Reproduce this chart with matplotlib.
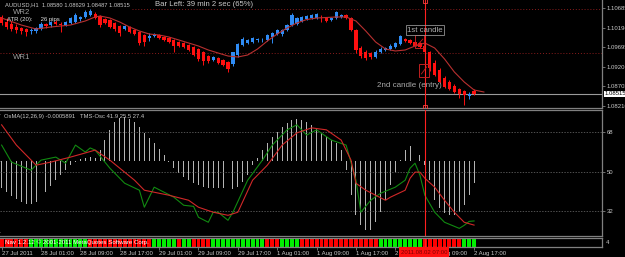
import matplotlib
matplotlib.use("Agg")
import matplotlib.pyplot as plt
from matplotlib.patches import Rectangle

plt.rcParams['font.family'] = ['Liberation Sans', 'DejaVu Sans']

# ---------------- data ----------------
opens = [1.10458, 1.10331, 1.10281, 1.10205, 1.10180, 1.10154, 1.10104, 1.10104, 1.10154, 1.10281,
         1.10255, 1.10331, 1.10281, 1.10255, 1.10306, 1.10331, 1.10407, 1.10458, 1.10508, 1.10533,
         1.10483, 1.10407, 1.10382, 1.10306, 1.10230, 1.10154, 1.10205, 1.10129, 1.10079, 1.10003,
         1.09927, 1.09978, 1.10003, 1.09952, 1.09927, 1.09877, 1.09826, 1.09801, 1.09750, 1.09700,
         1.09649, 1.09573, 1.09472, 1.09371, 1.09422, 1.09371, 1.09321, 1.09270, 1.09498, 1.09750,
         1.09801, 1.09826, 1.09877, 1.09877, 1.09877, 1.09952, 1.10028, 1.10028, 1.10129, 1.10255,
         1.10281, 1.10357, 1.10407, 1.10432, 1.10432, 1.10432, 1.10432, 1.10382, 1.10432, 1.10458,
         1.10508, 1.10432, 1.10129, 1.09674, 1.09573, 1.09548, 1.09447, 1.09573, 1.09624, 1.09649,
         1.09700, 1.09776, 1.09902, 1.09877, 1.09826, 1.09801, 1.09725, 1.09573, 1.09296, 1.09119,
         1.08917, 1.08816, 1.08715, 1.08639, 1.08588, 1.08462, 1.08580]
highs = [1.10508, 1.10432, 1.10357, 1.10281, 1.10205, 1.10180, 1.10180, 1.10205, 1.10331, 1.10306,
         1.10357, 1.10382, 1.10331, 1.10357, 1.10458, 1.10559, 1.10483, 1.10634, 1.10660, 1.10584,
         1.10508, 1.10432, 1.10407, 1.10331, 1.10255, 1.10255, 1.10230, 1.10154, 1.10104, 1.10028,
         1.10053, 1.10053, 1.10028, 1.09978, 1.09952, 1.09902, 1.09851, 1.09826, 1.09776, 1.09725,
         1.09674, 1.09599, 1.09498, 1.09472, 1.09447, 1.09397, 1.09346, 1.09573, 1.09801, 1.09952,
         1.09902, 1.09952, 1.09927, 1.09927, 1.10028, 1.10079, 1.10154, 1.10154, 1.10281, 1.10559,
         1.10458, 1.10483, 1.10508, 1.10533, 1.10559, 1.10508, 1.10458, 1.10458, 1.10609, 1.10533,
         1.10533, 1.10458, 1.10154, 1.09725, 1.09624, 1.09573, 1.09624, 1.09700, 1.09700, 1.09776,
         1.09826, 1.10003, 1.09927, 1.09902, 1.09851, 1.09826, 1.09776, 1.09599, 1.09371, 1.09169,
         1.08967, 1.08866, 1.08765, 1.08664, 1.08614, 1.08563, 1.08629]
lows = [1.10255, 1.10154, 1.10104, 1.10053, 1.10028, 1.09978, 1.10028, 1.10053, 1.10129, 1.10180,
        1.10205, 1.10255, 1.10079, 1.10230, 1.10281, 1.10306, 1.10357, 1.10432, 1.10483, 1.10407,
        1.10205, 1.10281, 1.10180, 1.10104, 1.09978, 1.10129, 1.10053, 1.10003, 1.09750, 1.09725,
        1.09851, 1.09952, 1.09902, 1.09851, 1.09801, 1.09573, 1.09700, 1.09674, 1.09599, 1.09472,
        1.09346, 1.09245, 1.09296, 1.09346, 1.09270, 1.09220, 1.09068, 1.09220, 1.09447, 1.09725,
        1.09776, 1.09801, 1.09826, 1.09826, 1.09851, 1.09801, 1.10003, 1.09978, 1.10104, 1.10230,
        1.10255, 1.10331, 1.10382, 1.10407, 1.10407, 1.10331, 1.10331, 1.10357, 1.10407, 1.10432,
        1.10407, 1.10104, 1.09548, 1.09422, 1.09371, 1.09397, 1.09422, 1.09548, 1.09599, 1.09624,
        1.09674, 1.09750, 1.09826, 1.09776, 1.09700, 1.09674, 1.09548, 1.09094, 1.08967, 1.08790,
        1.08664, 1.08614, 1.08538, 1.08412, 1.08235, 1.08386, 1.08487]
closes = [1.10306, 1.10205, 1.10154, 1.10129, 1.10104, 1.10079, 1.10129, 1.10180, 1.10281, 1.10230,
          1.10331, 1.10281, 1.10255, 1.10331, 1.10432, 1.10508, 1.10458, 1.10584, 1.10609, 1.10432,
          1.10255, 1.10306, 1.10205, 1.10154, 1.10053, 1.10230, 1.10079, 1.10028, 1.09801, 1.09826,
          1.09978, 1.10028, 1.09927, 1.09877, 1.09826, 1.09725, 1.09725, 1.09700, 1.09624, 1.09498,
          1.09397, 1.09346, 1.09346, 1.09447, 1.09296, 1.09245, 1.09144, 1.09573, 1.09776, 1.09902,
          1.09877, 1.09927, 1.09902, 1.09880, 1.10003, 1.10053, 1.10129, 1.10129, 1.10255, 1.10508,
          1.10432, 1.10458, 1.10483, 1.10508, 1.10533, 1.10420, 1.10357, 1.10432, 1.10584, 1.10508,
          1.10432, 1.10129, 1.09624, 1.09472, 1.09422, 1.09447, 1.09573, 1.09649, 1.09674, 1.09725,
          1.09801, 1.09978, 1.09851, 1.09801, 1.09725, 1.09700, 1.09573, 1.09169, 1.08993, 1.08816,
          1.08689, 1.08639, 1.08563, 1.08513, 1.08487, 1.08513, 1.08515]

ma_idx = [0, 4, 7, 10, 14, 17, 19, 20, 22, 24, 26, 28, 30, 32, 34, 36, 38, 40, 42, 44, 46, 48,
          50, 52, 54, 56, 58, 60, 62, 64, 68, 70, 72, 74, 76, 78, 80, 82, 84, 86, 88, 90, 92,
          94, 96, 98]
ma_val = [1.10432, 1.10255, 1.10154, 1.10205, 1.10255, 1.10357, 1.10458, 1.10483, 1.10432,
          1.10331, 1.10205, 1.10104, 1.10028, 1.10003, 1.09952, 1.09877, 1.09801, 1.09725,
          1.09624, 1.09548, 1.09472, 1.09447, 1.09498, 1.09649, 1.09851, 1.10028, 1.10180,
          1.10306, 1.10394, 1.10432, 1.10458, 1.10458, 1.10357, 1.10104, 1.09826, 1.09649,
          1.09599, 1.09624, 1.09725, 1.09801, 1.09674, 1.09397, 1.09068, 1.08816, 1.08614,
          1.08563]

osma = [-0.000724, -0.000831, -0.000938, -0.001018, -0.001099, -0.001152, -0.001152, -0.001099,
        -0.000992, -0.000831, -0.000670, -0.000509, -0.000375, -0.000241, -0.000107, -0.000027,
        0.000054, 0.000080, 0.000107, 0.000080, 0.000295, 0.000563, 0.000831, 0.001045, 0.001152,
        0.001179, 0.001126, 0.001045, 0.000911, 0.000750, 0.000616, 0.000482, 0.000322, 0.000161,
        -0.000027, -0.000188, -0.000322, -0.000429, -0.000509, -0.000590, -0.000643, -0.000697,
        -0.000724, -0.000724, -0.000724, -0.000724, -0.000750, -0.000750, -0.000697, -0.000563,
        -0.000375, -0.000107, 0.000080, 0.000295, 0.000482, 0.000643, 0.000777, 0.000911, 0.001018,
        0.001099, 0.001126, 0.001099, 0.001045, 0.000965, 0.000884, 0.000750, 0.000643, 0.000563,
        0.000482, 0.000295, -0.000241, -0.000911, -0.001447, -0.001715, -0.001849, -0.001849,
        -0.001635, -0.001367, -0.001045, -0.000643, -0.000295, 0.000027, 0.000295, 0.000402,
        0.000348, 0.000161, -0.000107, -0.000509, -0.001045, -0.001260, -0.001394, -0.001447,
        -0.001447, -0.001367, -0.001179, -0.000911, -0.0005891]

green_idx = [0, 2, 5, 6, 8, 11, 13, 15, 17, 18, 19, 22, 25, 28, 29, 31, 35, 37, 39, 40, 42, 43,
             44, 46, 47, 50, 53, 55, 58, 60, 62, 64, 67, 70, 72, 73, 75, 77, 80, 82, 83, 84, 85,
             86, 88, 90, 93, 94, 95, 96]
green_val = [62.2, 54.4, 51.6, 50.7, 55.3, 56.7, 53.9, 62.2, 59.0, 60.9, 59.9, 51.6, 44.7, 41.5,
             33.7, 42.9, 38.3, 34.6, 34.1, 29.1, 26.8, 31.4, 31.4, 27.7, 31.4, 46.1, 55.3, 62.2,
             69.2, 71.5, 66.8, 69.2, 64.5, 62.2, 46.1, 31.4, 36.9, 40.1, 42.9, 46.1, 51.6, 53.9,
             48.4, 39.2, 31.4, 26.8, 24.0, 25.4, 27.2, 27.4]
red_idx = [0, 3, 7, 10, 14, 17, 19, 22, 27, 29, 34, 38, 40, 43, 46, 48, 51, 54, 57, 60, 63, 66,
           69, 71, 72, 74, 78, 79, 82, 83, 84, 85, 86, 88, 90, 92, 94, 96]
red_val = [71.5, 62.2, 53.0, 54.4, 56.7, 58.6, 59.9, 55.3, 46.1, 41.5, 39.2, 36.9, 33.7, 31.4,
           30.0, 31.4, 46.1, 53.0, 62.2, 67.8, 70.1, 69.2, 64.5, 55.3, 44.7, 41.5, 36.9, 38.3,
           41.5, 47.0, 49.8, 49.8, 47.0, 42.9, 36.9, 31.4, 26.8, 25.5]

strip_colors = ("rrrrrr" "gggggggggggg" "rrrrrrrrrrrrr" "ggggg" "r" "gg" "rrrr" "ggggggggggg"
                "rrr" "gggg" "rrrrrrrrrrrrrrrr" "ggggggggg" "rrrrrrrr" "ggg")

time_tick_idx = [0, 8, 16, 24, 32, 40, 48, 56, 64, 72, 80, 88, 96]
time_labels = ["27 Jul 2011", "28 Jul 01:00", "28 Jul 09:00", "28 Jul 17:00", "29 Jul 01:00",
               "29 Jul 09:00", "29 Jul 17:00", "1 Aug 01:00", "1 Aug 09:00", "1 Aug 17:00",
               "2 Aug 2011", "2 Aug 09:00", "2 Aug 17:00"]
price_ticks = [1.10685, 1.10190, 1.09695, 1.09200, 1.08705, 1.08210]
wr2_level = 1.10660
wr1_level = 1.09548
last_price = 1.08515
tms_levels = [68, 50, 32]
osma_ticks = [0.001271, 0.0, -0.001906]
osma_labels = ["0.001271", "0.00", "-0.001906"]
marker_bar = 86

# ---------------- layout ----------------
W, H = 625, 257
fig = plt.figure(figsize=(6.25, 2.57), dpi=100, facecolor='black')


def rect(x0, y0, x1, y1):
    return [x0 / W, 1 - y1 / H, (x1 - x0) / W, (y1 - y0) / H]


ax = fig.add_axes(rect(0, 0, 602, 108))
osc = fig.add_axes(rect(0, 110, 602, 236), sharex=ax)
strip = fig.add_axes(rect(0, 238, 602, 247), sharex=ax)

GRAY = '#808080'
TXT = '#c8c8c8'
FS = 4.3

for a in (ax, osc, strip):
    a.set_facecolor('black')
    for s in a.spines.values():
        s.set_color(GRAY)
        s.set_linewidth(0.9)
    a.spines['left'].set_visible(False)
    a.tick_params(axis='x', bottom=False, labelbottom=False)
ax.spines['top'].set_visible(False)

ax.set_xlim(-0.33, 122)
ax.set_ylim(1.08159, 1.10887)

# ---------------- candles ----------------
n = len(closes)
xs = list(range(n))
bull_c = '#2f8cf5'
bear_c = '#ff1010'
cols = [bull_c if c >= o else bear_c for o, c in zip(opens, closes)]
ax.vlines(xs, lows, highs, colors=cols, linewidth=0.7, zorder=3)
bottoms = [min(o, c) for o, c in zip(opens, closes)]
heights = [max(abs(c - o), 0.00005) for o, c in zip(opens, closes)]
ax.bar(xs, heights, bottom=bottoms, width=0.66, color=cols, linewidth=0, zorder=4)

ax.plot(ma_idx, ma_val, color='#b83030', lw=0.8, zorder=5)

ax.axhline(wr2_level, xmin=0.22, color='#8a1c1c', ls=(0, (1, 2)), lw=0.7, zorder=1)
ax.axhline(wr1_level, color='#8a1c1c', ls=(0, (1, 2)), lw=0.7, zorder=1)
ax.axhline(last_price, color='#9a9a9a', lw=0.8, zorder=2)

ax.yaxis.tick_right()
ax.set_yticks(price_ticks)
ax.set_yticklabels([f"{p:.5f}" for p in price_ticks])
ax.tick_params(axis='y', colors=GRAY, labelcolor=TXT, labelsize=FS, length=2, width=0.6, pad=1.5)
ax.text(1.004, last_price, f"{last_price:.5f}", transform=ax.get_yaxis_transform(),
        ha='left', va='center', fontsize=FS, color='black', zorder=10, clip_on=False,
        bbox=dict(boxstyle='square,pad=0.15', fc='white', ec='none'))

# vertical marker line
ax.axvline(marker_bar, color='#ff2020', lw=0.8, zorder=6)
ax.plot([marker_bar, marker_bar], [1.10860, 1.08190], ls='none', marker='s', ms=2.2,
        mfc='none', mec='#ff4040', mew=0.6, zorder=7)

# annotation boxes
ax.add_patch(Rectangle((84.0, 1.09674), 1.9, 0.00329, fill=False, ec='#c02020', lw=0.7, zorder=7))
ax.add_patch(Rectangle((84.9, 1.08942), 2.0, 0.00328, fill=False, ec='#c02020', lw=0.7, zorder=7))
ax.plot([84.3, 85.6], [1.09720, 1.09900], color='#c02020', lw=0.6, zorder=7)
ax.plot([85.3, 86.4], [1.09020, 1.09200], color='#c02020', lw=0.6, zorder=7)
ax.text(82.4, 1.10129, "1st candle", fontsize=5.6, color='#b0b0b0', va='center', ha='left',
        zorder=8, bbox=dict(boxstyle='square,pad=0.2', fc='none', ec='#909090', lw=0.6))
ax.text(76.3, 1.08715, "2nd candle (entry)", fontsize=5.8, color='#a8a8a8', va='center',
        ha='left', zorder=8)


def ftext(x, y, s, **kw):
    fig.text(x / W, 1 - y / H, s, va='center', ha='left', **kw)


ftext(5, 5, "AUDUSD,H1  1.08580 1.08629 1.08487 1.08515", fontsize=4.15, color=TXT)
ftext(155, 5, "Bar Left: 39 min 2 sec (65%)", fontsize=5.6, color=TXT)
ftext(13, 12.5, "WR2", fontsize=5.6, color='#a0a0a0')
ftext(7, 20, "ATR (20):     26 pips", fontsize=4.3, color='#e0e0e0')
ftext(13, 57.5, "WR1", fontsize=5.6, color='#a0a0a0')

# ---------------- oscillator ----------------
osc.set_ylim(-0.00201, 0.00138)
osc.bar(xs, osma, width=0.2, color='#b4b4b4', linewidth=0, zorder=2)
osc.yaxis.tick_right()
osc.set_yticks(osma_ticks)
osc.set_yticklabels(osma_labels)
osc.tick_params(axis='y', colors=GRAY, labelcolor=TXT, labelsize=FS, length=2, width=0.6, pad=1.5)

tms = osc.twinx()
tms.set_ylim(20.5, 78.3)
for s in tms.spines.values():
    s.set_visible(False)
for lv in tms_levels:
    tms.axhline(lv, color='#707070', ls=(0, (2, 2)), lw=0.5, zorder=1)
tms.plot(green_idx, green_val, color='#118a11', lw=0.8, zorder=4)
tms.plot(red_idx, red_val, color='#d02828', lw=0.8, zorder=4)
tms.axvline(marker_bar, color='#ff2020', lw=0.8, zorder=5)
tms.set_yticks(tms_levels)
tms.set_yticklabels([str(v) for v in tms_levels])
tms.tick_params(axis='y', colors=GRAY, labelcolor=TXT, labelsize=FS, length=2, width=0.6, pad=1.5)
tms.tick_params(axis='x', bottom=False, labelbottom=False)
osc.text(0.007, 0.952, "OsMA(12,26,9) -0.0005891   TMS-Osc 41.9 25.5 27.4", transform=osc.transAxes,
         fontsize=4.2, color=TXT, va='center', ha='left', zorder=10)

# ---------------- colour strip ----------------
strip.set_ylim(0, 1)
scol = ['#00ee00' if c == 'g' else '#ff0000' for c in strip_colors]
strip.bar(xs, [1] * n, width=0.8, color=scol, linewidth=0)
strip.axvline(marker_bar, color='#ff2020', lw=0.8)
strip.yaxis.tick_right()
strip.set_yticks([0.5])
strip.set_yticklabels(["4"])
strip.tick_params(axis='y', colors=GRAY, labelcolor=TXT, labelsize=FS, length=0, pad=3)
strip.set_xticks(time_tick_idx)
strip.set_xticklabels(time_labels, ha='left')
strip.tick_params(axis='x', bottom=True, labelbottom=True, colors=GRAY, labelcolor=TXT,
                  labelsize=FS, length=2, width=0.6, pad=1)
strip.text(0.008, 0.5, "Nav 1.2.12 © 2001-2011 MetaQuotes Software Corp.", transform=strip.transAxes,
           fontsize=4.4, color='white', va='center', ha='left', zorder=10)

fig.text(424 / W, 1 - 252 / H, "2011.08.02 07:00", ha='center', va='center', fontsize=FS,
         color='#7a0000', zorder=20,
         bbox=dict(boxstyle='square,pad=0.35', fc='#ff1010', ec='none'))

fig.savefig("out.png", dpi=100, facecolor='black')
